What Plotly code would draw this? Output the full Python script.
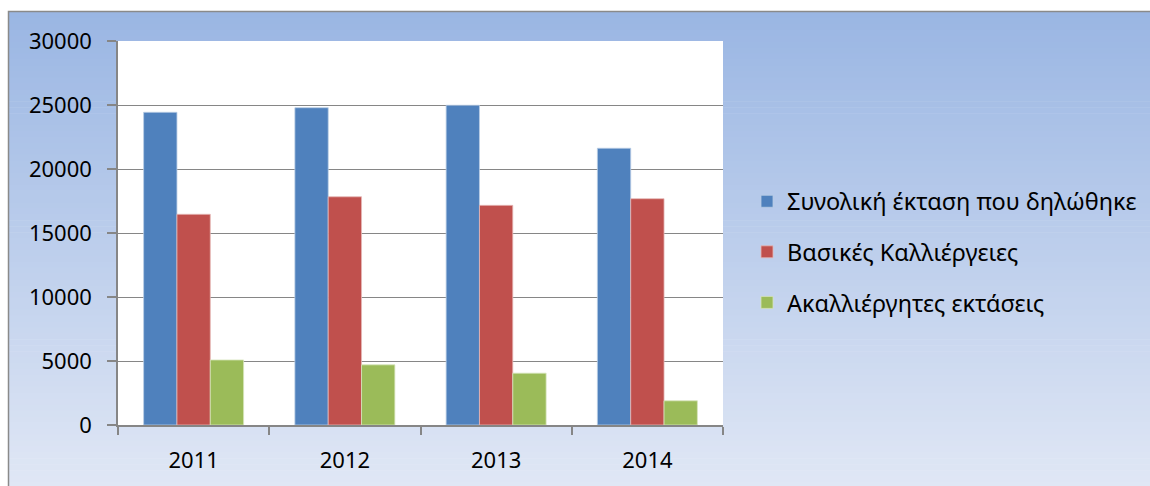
import plotly.graph_objects as go

# ---- data ----
years = ["2011", "2012", "2013", "2014"]
total_area = [24430, 24790, 24980, 21620]
basic_crops = [16460, 17830, 17160, 17680]
uncultivated = [5080, 4700, 4050, 1890]
series_names = [
    "Συνολική έκταση που δηλώθηκε",
    "Βασικές Καλλιέργειες",
    "Ακαλλιέργητες εκτάσεις",
]
y_ticks = [0, 5000, 10000, 15000, 20000, 25000, 30000]

# ---- geometry / style ----
W, H = 1150, 486
L, R, T, B = 118, 427, 41, 61
PW, PH = W - L - R, H - T - B
FONT = "Noto Sans"
colors = ["#4F81BD", "#C0504D", "#9BBB59"]
edge = ["#B9CDE5", "#E6B9B8", "#D7E4BD"]
grid = "#868686"


def xp(px):
    return (px - L) / PW


def yp(py):
    return (H - B - py) / PH


fig = go.Figure()
for i, vals in enumerate([total_area, basic_crops, uncultivated]):
    fig.add_trace(go.Bar(
        x=years, y=vals, name=series_names[i],
        marker=dict(color=colors[i], line=dict(color=edge[i], width=0.8)),
        legendgroup=f"g{i}",
    ))

shapes = []
# gradient background
top_c = (154, 182, 227)
bot_c = (224, 231, 245)
y_start, y_end = 12, H + 2
N = 80
step = (y_end - y_start) / N
for k in range(N):
    t = k / (N - 1)
    c = tuple(round(top_c[j] + (bot_c[j] - top_c[j]) * t) for j in range(3))
    shapes.append(dict(
        type="rect", xref="paper", yref="paper", layer="below",
        x0=xp(8), x1=xp(W + 5), y0=yp(y_start + k * step), y1=yp(y_start + (k + 1) * step + 0.6),
        fillcolor=f"rgb{c}", line=dict(width=0),
    ))
# white plot area
shapes.append(dict(
    type="rect", xref="x domain", yref="y domain", layer="below",
    x0=0, x1=1, y0=0, y1=1, fillcolor="white", line=dict(width=0),
))
# outer border
shapes.append(dict(
    type="rect", xref="paper", yref="paper", layer="above",
    x0=xp(8.5), x1=xp(W + 10), y0=yp(11.5), y1=yp(H + 10),
    fillcolor="rgba(0,0,0,0)", line=dict(color="#8A8A8A", width=1.5),
))

fig.update_layout(
    width=W, height=H,
    margin=dict(l=L, r=R, t=T, b=B, pad=0),
    paper_bgcolor="white", plot_bgcolor="white",
    font=dict(family=FONT, size=22, color="black"),
    barmode="group", bargap=0.339, bargroupgap=0,
    shapes=shapes,
    showlegend=True,
    legend=dict(
        xref="container", yref="container",
        x=747 / W, y=1 - 252 / H, xanchor="left", yanchor="middle",
        bgcolor="rgba(0,0,0,0)", borderwidth=0,
        traceorder="grouped", tracegroupgap=17,
        font=dict(family=FONT, size=23.5, color="black"),
    ),
)
fig.update_xaxes(
    type="category", showgrid=False, showline=True, linecolor=grid, linewidth=1.5,
    ticks="outside", tickson="boundaries", ticklen=8, tickcolor=grid, tickwidth=1.5,
    tickfont=dict(family=FONT, size=22, color="black"), ticklabelstandoff=15,
)
fig.update_yaxes(
    range=[0, 30000], tickvals=y_ticks, ticktext=[str(v) for v in y_ticks],
    showgrid=True, gridcolor=grid, gridwidth=1.3, zeroline=False,
    showline=True, linecolor=grid, linewidth=1.5,
    ticks="outside", ticklen=9, tickcolor=grid, tickwidth=1.5,
    tickfont=dict(family=FONT, size=22, color="black"), ticklabelstandoff=11,
)

fig.write_html(
    "out.html",
    config={"displayModeBar": False},
    post_script="document.body.style.margin='0';document.body.style.overflow='hidden';",
)
